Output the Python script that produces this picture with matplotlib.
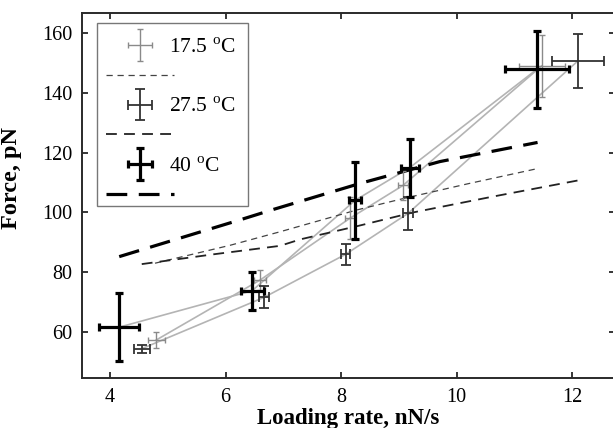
import matplotlib

matplotlib.use("Agg")
import matplotlib.pyplot as plt
from matplotlib.container import ErrorbarContainer
from matplotlib.legend_handler import HandlerErrorbar, HandlerLine2D
from matplotlib.lines import Line2D

plt.rcParams["font.family"] = ["Liberation Serif", "DejaVu Serif"]
plt.rcParams["mathtext.fontset"] = "custom"
plt.rcParams["mathtext.rm"] = "Liberation Serif"

# measured rupture force vs loading rate, one series per temperature
rate_17 = [4.80, 6.60, 8.15, 9.07, 11.47]
force_17 = [57.3, 77.4, 98.0, 109.0, 149.0]
rate_err_17 = [0.15, 0.10, 0.09, 0.09, 0.40]
force_err_17 = [2.7, 3.3, 7.0, 5.0, 10.3]

rate_27 = [4.55, 6.67, 8.08, 9.16, 12.10]
force_27 = [54.4, 71.6, 86.0, 99.7, 150.7]
rate_err_27 = [0.14, 0.09, 0.08, 0.09, 0.45]
force_err_27 = [1.4, 3.7, 3.5, 5.5, 9.0]

rate_40 = [4.16, 6.46, 8.24, 9.19, 11.39]
force_40 = [61.6, 73.8, 104.0, 115.0, 147.9]
rate_err_40 = [0.35, 0.20, 0.11, 0.15, 0.56]
force_err_40 = [11.4, 6.4, 12.9, 9.7, 12.9]

# model curves
fit_x_17 = [4.78, 6.08, 6.94, 8.27, 9.07, 10.20, 11.41]
fit_y_17 = [83.0, 89.0, 93.5, 100.8, 104.6, 109.6, 114.7]
fit_x_27 = [4.55, 5.80, 6.94, 7.30, 8.30, 9.25, 10.63, 12.13]
fit_y_27 = [82.7, 86.0, 88.8, 91.0, 95.5, 100.0, 105.3, 110.8]
fit_x_40 = [4.16, 6.25, 6.83, 8.33, 9.71, 11.40]
fit_y_40 = [85.2, 97.5, 101.0, 109.7, 117.0, 123.4]

labels = [r"17.5 $^{\rm o}$C", r"27.5 $^{\rm o}$C", r"40 $^{\rm o}$C"]

fig = plt.figure(figsize=(6.13, 4.28), dpi=100)
ax = fig.add_axes([82 / 613, 50 / 428, 533 / 613, 365 / 428])

# thin grey lines joining the points of each series
for rx, fy in ((rate_17, force_17), (rate_27, force_27), (rate_40, force_40)):
    ax.plot(rx, fy, "-", color="#b4b4b4", lw=1.2, zorder=1)

f17, = ax.plot(fit_x_17, fit_y_17, color="#444444", lw=0.9, dashes=(5, 3.8), zorder=2)
f27, = ax.plot(fit_x_27, fit_y_27, color="#222222", lw=1.3, dashes=(6, 4), zorder=2)
f40, = ax.plot(fit_x_40, fit_y_40, color="black", lw=2.3, dashes=(6.5, 3.6), zorder=2)

e17 = ax.errorbar(rate_17, force_17, xerr=rate_err_17, yerr=force_err_17, fmt="none",
                  ecolor="#8a8a8a", elinewidth=1.0, capsize=2.4, capthick=1.0, zorder=3)
e27 = ax.errorbar(rate_27, force_27, xerr=rate_err_27, yerr=force_err_27, fmt="none",
                  ecolor="#333333", elinewidth=1.3, capsize=3.4, capthick=1.3, zorder=4)
e40 = ax.errorbar(rate_40, force_40, xerr=rate_err_40, yerr=force_err_40, fmt="none",
                  ecolor="black", elinewidth=2.3, capsize=3.2, capthick=2.3, zorder=5)

ax.set_xlim(3.516, 12.74)
ax.set_ylim(44.6, 166.7)
ax.set_xticks([4, 6, 8, 10, 12])
ax.set_yticks([60, 80, 100, 120, 140, 160])
ax.tick_params(direction="in", length=4, width=1.1, labelsize=14.5,
               top=True, right=True, pad=7)
for s in ax.spines.values():
    s.set_linewidth(1.4)
    s.set_color("#2a2a2a")

ax.set_xlabel("Loading rate, nN/s", fontsize=16.5, fontweight="bold", labelpad=1)
ax.set_ylabel("Force, pN", fontsize=17.5, fontweight="bold")
ax.yaxis.set_label_coords(-0.113, 0.547)

# legend: error-bar symbol with its label, model line underneath
# (the blank title just pushes the rows down inside the frame)
leg = ax.legend([e17, f17, e27, f27, e40, f40],
                [labels[0], "", labels[1], "", labels[2], ""],
                handler_map={ErrorbarContainer: HandlerErrorbar(xerr_size=0.57, yerr_size=0.73),
                             Line2D: HandlerLine2D(numpoints=2, marker_pad=0.4)},
                loc="upper left", bbox_to_anchor=(0.028, 0.0, 0.283, 0.973),
                mode="expand", fontsize=15.5, title=" ", title_fontsize=4,
                handlelength=4.0, handletextpad=-0.65, labelspacing=0.45,
                borderpad=0.0, frameon=True, fancybox=False, borderaxespad=0)
leg.get_frame().set_edgecolor("#555555")
leg.get_frame().set_linewidth(1.0)

fig.savefig("out.png", dpi=100, facecolor="white")
